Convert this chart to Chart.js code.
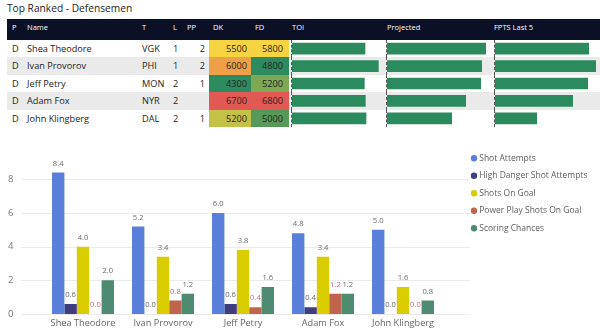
<!DOCTYPE html>
<html lang="en">

<head>
  <meta charset="UTF-8" />
  <title>Top Ranked - Defensemen</title>
  <script src="https://cdn.jsdelivr.net/npm/chart.js"></script>
  <style>
    body {
      margin: 0;
      width: 600px;
      height: 334px;
      background: #fff;
      font-family: 'Segoe UI', 'Open Sans', sans-serif;
      position: relative;
      overflow: hidden;
    }

    #titulo {
      position: absolute;
      left: 7px;
      top: 1px;
      font-size: 10.2px;
      line-height: 15px;
      color: #252423;
    }

    #tabela {
      position: absolute;
      left: 7px;
      top: 19px;
      width: 593px;
      display: grid;
      grid-template-columns: 15px 115px 31px 15px 26px 42px 38px 2px 95px 108px 106px;
      grid-template-rows: 21px repeat(5, 17.4px);
    }

    .cab {
      background: #0b1027;
      color: #fff;
      font-size: 7.5px;
      line-height: 17px;
      white-space: nowrap;
    }

    .cel {
      font-size: 9.2px;
      line-height: 17.4px;
      color: #252423;
      white-space: nowrap;
      overflow: hidden;
      box-sizing: border-box;
    }

    .par { background: #eaeaea; }
    .pl5 { padding-left: 5px; }
    .pl4 { padding-left: 4px; }
    .pl1 { padding-left: 1px; }
    .dir { text-align: right; padding-right: 4px; }
    .dir6 { text-align: right; padding-right: 6px; }
    .div { border-left: 1px dashed #555; }

    .barras {
      position: absolute;
      top: 40px;
    }

    #grafico-box {
      position: absolute;
      left: 0;
      top: 134px;
      width: 600px;
      height: 200px;
    }
  </style>
</head>

<body>
  <div id="titulo">Top Ranked - Defensemen</div>
  <div id="tabela"></div>

  <canvas id="barra_toi" class="barras" width="94" height="87" style="left:292px"></canvas>
  <canvas id="barra_proj" class="barras" width="106" height="87" style="left:387px"></canvas>
  <canvas id="barra_fpts" class="barras" width="105" height="87" style="left:495px"></canvas>

  <div id="grafico-box">
    <canvas id="grafico_chutes" width="600" height="200"></canvas>
  </div>

  <script>
    // dados da tabela
    const posicoes = ['D', 'D', 'D', 'D', 'D'];
    const jogadores = ['Shea Theodore', 'Ivan Provorov', 'Jeff Petry', 'Adam Fox', 'John Klingberg'];
    const times = ['VGK', 'PHI', 'MON', 'NYR', 'DAL'];
    const linhas = [1, 1, 2, 2, 2];
    const powerPlayUnid = [2, 2, 1, null, 1];
    const salarioDK = [5500, 6000, 4300, 6700, 5200];
    const salarioFD = [5800, 4800, 5200, 6800, 5000];
    const toi = [22.0, 26.0, 21.8, 22.1, 22.3];
    const projetado = [9.9, 9.5, 9.4, 7.9, 6.5];
    const fptsUltimos5 = [9.4, 10.1, 9.3, 7.8, 4.2];

    // dados do gráfico de barras
    const tentativas = [8.4, 5.2, 6.0, 4.8, 5.0];
    const altoPerigo = [0.6, 0.0, 0.6, 0.4, 0.0];
    const chutesNoGol = [4.0, 3.4, 3.8, 3.4, 1.6];
    const chutesPowerPlay = [0.0, 0.8, 0.4, 1.2, 0.0];
    const chancesGol = [2.0, 1.2, 1.6, 1.2, 0.8];
    const ticksY = [0, 2, 4, 6, 8];

    const fonte = "'Segoe UI', 'Open Sans', sans-serif";

    // escala verde -> amarelo -> vermelho (formatação condicional do salário)
    function corEscala(valor, lista) {
      const min = Math.min(...lista);
      const max = Math.max(...lista);
      const meio = (min + max) / 2;
      const verde = [46, 139, 95], amarelo = [246, 211, 64], vermelho = [226, 89, 84];
      let a, b, t;
      if (valor <= meio) { a = verde; b = amarelo; t = (valor - min) / (meio - min); }
      else { a = amarelo; b = vermelho; t = (valor - meio) / (max - meio); }
      return 'rgb(' + a.map((c, i) => Math.round(c + (b[i] - c) * t)).join(',') + ')';
    }

    function montarTabela() {
      let html = '';
      const cabecalhos = [['P', 'pl5'], ['Name', 'pl5'], ['T', 'pl5'], ['L', 'pl5'], ['PP', 'pl4'],
        ['DK', 'pl4'], ['FD', 'pl4'], ['', ''], ['TOI', 'pl1'], ['Projected', 'pl1'], ['FPTS Last 5', '']];
      cabecalhos.forEach(c => { html += `<div class="cab ${c[1]}">${c[0]}</div>`; });

      for (let i = 0; i < jogadores.length; i++) {
        const fundo = i % 2 === 1 ? 'par' : '';
        html += `<div class="cel pl5 ${fundo}">${posicoes[i]}</div>`;
        html += `<div class="cel pl5 ${fundo}">${jogadores[i]}</div>`;
        html += `<div class="cel pl5 ${fundo}">${times[i]}</div>`;
        html += `<div class="cel pl5 ${fundo}">${linhas[i]}</div>`;
        html += `<div class="cel dir ${fundo}">${powerPlayUnid[i] ?? ''}</div>`;
        html += `<div class="cel dir" style="background:${corEscala(salarioDK[i], salarioDK)}">${salarioDK[i]}</div>`;
        html += `<div class="cel dir6" style="background:${corEscala(salarioFD[i], salarioFD)}">${salarioFD[i]}</div>`;
        html += `<div class="cel ${fundo}"></div>`;
        html += `<div class="cel div ${fundo}"></div>`;
        html += `<div class="cel div ${fundo}"></div>`;
        html += `<div class="cel div ${fundo}"></div>`;
      }
      document.getElementById('tabela').innerHTML = html;
    }

    // barras de dados dentro das colunas da tabela
    function barrasColuna(id, valores, maximo) {
      new Chart(document.getElementById(id), {
        type: 'bar',
        data: {
          labels: jogadores,
          datasets: [{
            data: valores,
            backgroundColor: '#2b8a5e',
            barPercentage: 0.67,
            categoryPercentage: 1
          }]
        },
        options: {
          indexAxis: 'y',
          responsive: false,
          animation: false,
          devicePixelRatio: 1,
          layout: { padding: 0 },
          plugins: { legend: { display: false }, tooltip: { enabled: false } },
          scales: {
            x: { display: false, min: 0, max: maximo },
            y: { display: false }
          }
        }
      });
    }

    // grade horizontal mais larga que a área das barras
    const linhasGrade = {
      id: 'linhasGrade',
      beforeDatasetsDraw(chart) {
        const y = chart.scales.y;
        const ctx = chart.ctx;
        ctx.save();
        ctx.strokeStyle = '#ebebeb';
        ctx.lineWidth = 1;
        y.ticks.forEach(t => {
          const py = Math.round(y.getPixelForValue(t.value)) + 0.5;
          ctx.beginPath();
          ctx.moveTo(21, py);
          ctx.lineTo(470, py);
          ctx.stroke();
        });
        ctx.restore();
      }
    };

    // valores em cima de cada barra
    const rotulosValor = {
      id: 'rotulosValor',
      afterDatasetsDraw(chart) {
        const ctx = chart.ctx;
        ctx.save();
        ctx.font = `7.6px ${fonte}`;
        ctx.textAlign = 'center';
        ctx.textBaseline = 'middle';
        chart.data.datasets.forEach((ds, i) => {
          ctx.fillStyle = ds.corRotulo;
          chart.getDatasetMeta(i).data.forEach((barra, j) => {
            ctx.fillText(ds.data[j].toFixed(1), barra.x, barra.y - 9);
          });
        });
        ctx.restore();
      }
    };

    // legenda com largura fixa à direita
    const legendaFixa = {
      id: 'legendaFixa',
      beforeLayout(chart) {
        const lg = chart.legend;
        if (lg && !lg.larguraFixa) {
          const fitOriginal = lg.fit;
          lg.fit = function () { fitOriginal.call(this); this.width = 157; };
          lg.larguraFixa = true;
        }
      },
      beforeDraw(chart) {
        chart.legend.left = 464;
        chart.legend.top = 11;
      }
    };

    function plotarGrafico() {
      const serie = (label, data, cor, corRotulo) => ({
        label: label,
        data: data,
        backgroundColor: cor,
        corRotulo: corRotulo,
        barPercentage: 1,
        categoryPercentage: 0.775
      });

      new Chart(document.getElementById('grafico_chutes'), {
        type: 'bar',
        data: {
          labels: jogadores,
          datasets: [
            serie('Shot Attempts', tentativas, '#5a7fda', '#6b6b6b'),
            serie('High Danger Shot Attempts', altoPerigo, '#403d7e', '#6b6b6b'),
            serie('Shots On Goal', chutesNoGol, '#d9cc00', '#6b6b6b'),
            serie('Power Play Shots On Goal', chutesPowerPlay, '#c0644e', '#d9607a'),
            serie('Scoring Chances', chancesGol, '#4f8b70', '#6b6b6b')
          ]
        },
        options: {
          responsive: false,
          animation: false,
          devicePixelRatio: 1,
          layout: { padding: { top: 11.6, left: 8, right: 0, bottom: 0 } },
          plugins: {
            legend: {
              position: 'right',
              align: 'start',
              labels: {
                usePointStyle: true,
                pointStyle: 'circle',
                boxWidth: 2,
                boxHeight: 4.5,
                padding: 9,
                color: '#605e5c',
                font: { size: 8.5, family: fonte }
              }
            },
            tooltip: { enabled: false }
          },
          scales: {
            x: {
              grid: { display: false, drawTicks: false },
              border: { display: false },
              afterFit: s => { s.height = 20; },
              ticks: {
                padding: 4,
                autoSkip: false,
                maxRotation: 0,
                color: '#666',
                font: { size: 9.2, family: fonte }
              }
            },
            y: {
              min: 0,
              max: 10,
              grid: { display: false, drawTicks: false },
              border: { display: false },
              afterBuildTicks: s => { s.ticks = ticksY.map(v => ({ value: v })); },
              afterFit: s => { s.width = 35; },
              ticks: {
                padding: 0,
                crossAlign: 'far',
                color: '#777',
                font: { size: 9.5, family: fonte }
              }
            }
          }
        },
        plugins: [linhasGrade, rotulosValor, legendaFixa]
      });
    }

    montarTabela();
    barrasColuna('barra_toi', toi, 28.2);
    barrasColuna('barra_proj', projetado, 10.6);
    barrasColuna('barra_fpts', fptsUltimos5, 10.5);
    plotarGrafico();
  </script>
</body>

</html>
